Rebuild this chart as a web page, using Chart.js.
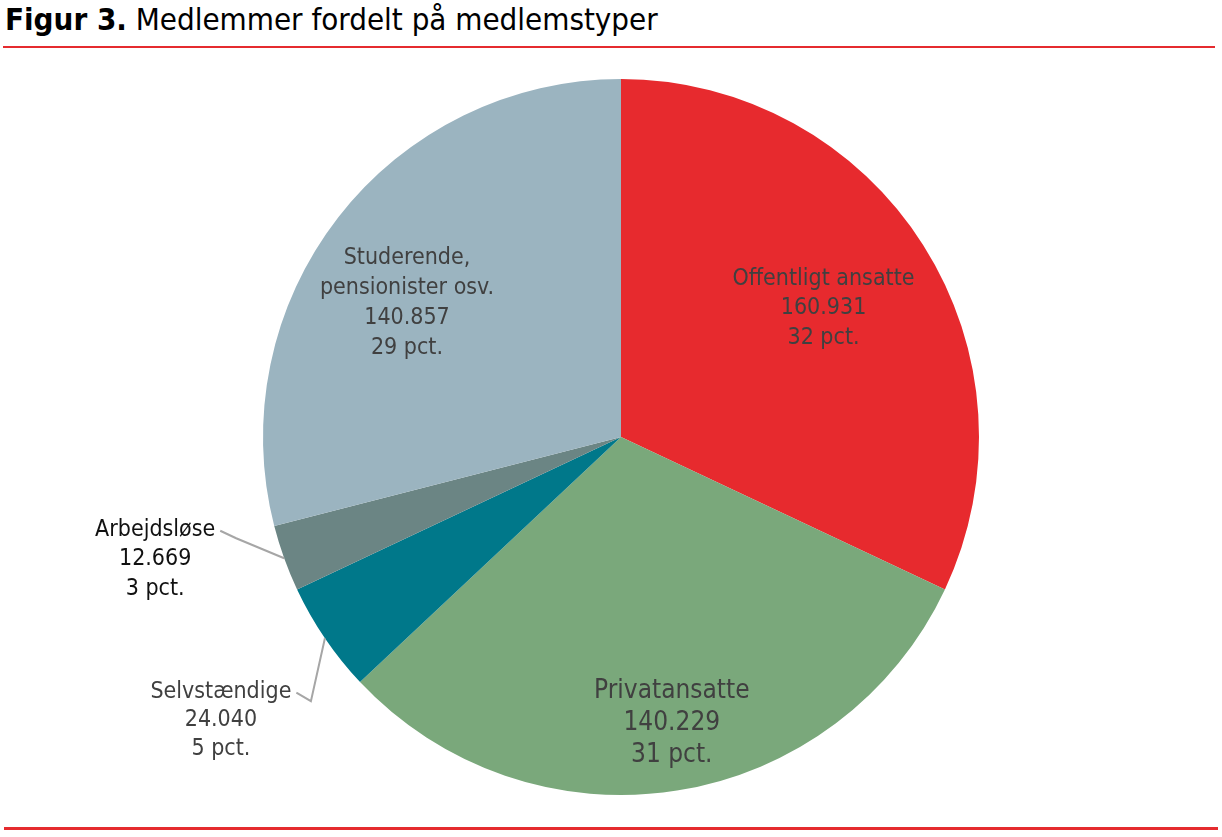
<!DOCTYPE html>
<html>
<head>
<meta charset="utf-8">
<script src="https://cdn.jsdelivr.net/npm/chart.js@4"></script>
<style>
  html, body { margin: 0; padding: 0; background: #fff; overflow: hidden; }
  body { width: 1222px; height: 837px; position: relative; font-family: "DejaVu Sans Condensed", "DejaVu Sans", sans-serif; }
  #title { position: absolute; left: 5px; top: 1px; font-size: 31px; color: #000; white-space: nowrap; }
  #title b { font-weight: bold; }
  #topline { position: absolute; left: 3px; right: 7px; top: 46px; height: 2px; background: #e52b2f; }
  #bottomline { position: absolute; left: 4px; right: 4px; top: 827px; height: 3px; background: #e52b2f; }
  #wrap { position: absolute; left: 0; top: 50px; width: 1222px; height: 770px; }
</style>
</head>
<body>
<div id="title"><b>Figur 3.</b> Medlemmer fordelt på medlemstyper</div>
<div id="topline"></div>
<div id="wrap"><canvas id="myChart"></canvas></div>
<div id="bottomline"></div>
<script>
// Kategorier og tal
const categories = ['Offentligt ansatte', 'Privatansatte', 'Selvstændige', 'Arbejdsløse', 'Studerende, pensionister osv.'];
const labelLines = [['Offentligt ansatte'], ['Privatansatte'], ['Selvstændige'], ['Arbejdsløse'], ['Studerende,', 'pensionister osv.']];
const members = [160931, 140229, 24040, 12669, 140857];
const shares = [32, 31, 5, 3, 29];
const colors = ['#e72a2e', '#7aa87b', '#00788a', '#6b8584', '#9bb4c0'];

// Placering af etiketter (inde i lagkagen: r = andel af radius, ellers forskydning fra kanten)
const placements = [
    { r: 0.67, dx: 0, dy: 0, size: 23, lh: 29.5, color: '#404040' },
    { r: 0.80, dx: 6, dy: 3, size: 26, lh: 32, color: '#404040' },
    { dx: -104, dy: 82, elbow: [-14, 63], size: 23, lh: 28.5, color: '#404040' },
    { dx: -129, dy: 1, elbow: [-48, -20], size: 23, lh: 29.5, color: '#111111' },
    { r: 0.70, dx: -16, dy: 20, size: 23, lh: 30, color: '#404040' }
];

function formatNumber(n) {
    return n.toString().replace(/\B(?=(\d{3})+(?!\d))/g, '.');
}

const labelPlugin = {
    id: 'sliceLabels',
    afterDraw(chart) {
        const ctx = chart.ctx;
        const meta = chart.getDatasetMeta(0);
        ctx.save();
        ctx.textAlign = 'center';
        ctx.textBaseline = 'middle';
        meta.data.forEach((arc, i) => {
            const p = arc.getProps(['x', 'y', 'startAngle', 'endAngle', 'outerRadius'], true);
            const mid = (p.startAngle + p.endAngle) / 2;
            const pl = placements[i];
            const lineHeight = pl.lh;
            ctx.font = pl.size + 'px "DejaVu Sans Condensed", "DejaVu Sans", sans-serif';
            const lines = [...labelLines[i], formatNumber(members[i]), shares[i] + ' pct.'];
            let cx, cy;
            if (pl.r !== undefined) {
                cx = p.x + Math.cos(mid) * p.outerRadius * pl.r + pl.dx;
                cy = p.y + Math.sin(mid) * p.outerRadius * pl.r + pl.dy;
            } else {
                const ex = p.x + Math.cos(mid) * p.outerRadius;
                const ey = p.y + Math.sin(mid) * p.outerRadius;
                cx = ex + pl.dx;
                cy = ey + pl.dy;
                // ledelinje
                const firstY = cy - (lines.length - 1) / 2 * lineHeight;
                const endX = cx + ctx.measureText(lines[0]).width / 2 + 5;
                ctx.strokeStyle = '#a6a6a6';
                ctx.lineWidth = 2;
                ctx.beginPath();
                ctx.moveTo(ex, ey);
                ctx.lineTo(ex + pl.elbow[0], ey + pl.elbow[1]);
                ctx.lineTo(endX, firstY + 1);
                ctx.stroke();
            }
            ctx.fillStyle = pl.color;
            lines.forEach((t, j) => {
                ctx.fillText(t, cx, cy + (j - (lines.length - 1) / 2) * lineHeight);
            });
        });
        ctx.restore();
    }
};

const ctx = document.getElementById('myChart').getContext('2d');
const myChart = new Chart(ctx, {
    type: 'pie',
    data: {
        labels: categories,
        datasets: [{
            data: shares,
            backgroundColor: colors,
            borderWidth: 0
        }]
    },
    options: {
        responsive: true,
        maintainAspectRatio: false,
        animation: false,
        layout: { padding: { left: 20, right: 0, top: 29, bottom: 25 } },
        plugins: {
            legend: { display: false },
            tooltip: { enabled: false }
        }
    },
    plugins: [labelPlugin]
});
</script>
</body>
</html>
